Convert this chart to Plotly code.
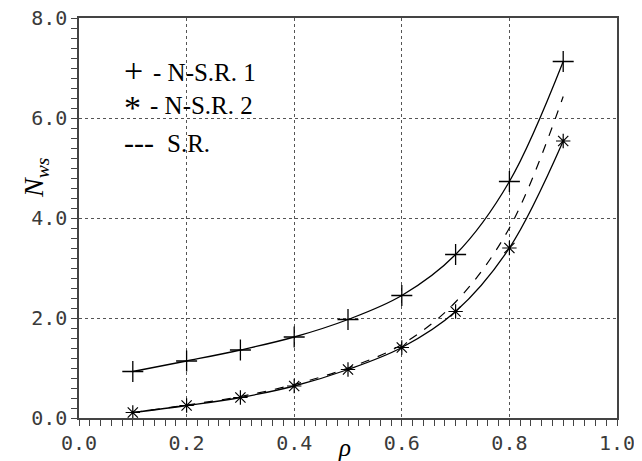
import plotly.graph_objects as go

rho = [0.1, 0.2, 0.3, 0.4, 0.5, 0.6, 0.7, 0.8, 0.9]
nsr1 = [0.93, 1.14, 1.36, 1.62, 1.97, 2.45, 3.27, 4.73, 7.13]
nsr2 = [0.11, 0.25, 0.41, 0.64, 0.97, 1.41, 2.13, 3.40, 5.54]
sr = [0.11, 0.26, 0.43, 0.67, 1.00, 1.47, 2.32, 3.80, 6.43]

x_ticks = [0.0, 0.2, 0.4, 0.6, 0.8, 1.0]
x_labels = ["0.0", "0.2", "0.4", "0.6", "0.8", "1.0"]
y_ticks = [0.0, 2.0, 4.0, 6.0, 8.0]
y_labels = ["0.0", "2.0", "4.0", "6.0", "8.0"]

legend_symbols = ["+", "*", "---"]
legend_texts = ["- N-S.R. 1", "- N-S.R. 2", "S.R."]

# page body has an 8px margin: figure origin sits at (8, 8) in the window
OFF = 8
W, H = 642 - OFF, 461 - OFF
L, R, T, B = 79, 617, 18, 418  # plot area in window pixels


def px(xw):
    return (xw - L) / (R - L)


def py(yw):
    return 1 - (yw - T) / (B - T)


fig = go.Figure()
fig.add_trace(go.Scatter(
    x=rho, y=nsr1, mode="lines+markers", line=dict(color="black", width=1.3, shape="spline"),
    marker=dict(symbol="cross-thin-open", size=15, line=dict(color="black", width=1.3)),
    showlegend=False))
fig.add_trace(go.Scatter(
    x=rho, y=nsr2, mode="lines+markers", line=dict(color="black", width=1.3, shape="spline"),
    marker=dict(symbol="asterisk-open", size=12, line=dict(color="black", width=1.2)),
    showlegend=False))
fig.add_trace(go.Scatter(
    x=rho, y=sr, mode="lines", line=dict(color="black", width=1.2, shape="spline", dash="dash"),
    showlegend=False))

tickfont = dict(family="DejaVu Sans Mono", size=20, color="#3a3a3a")
axis_common = dict(
    tickfont=tickfont, automargin=False, ticklabeloverflow="allow",
    showline=True, linecolor="#444", linewidth=1.5, mirror=True,
    ticks="outside", ticklen=6, tickcolor="#444",
    showgrid=True, gridcolor="#555", griddash="dot", gridwidth=1, zeroline=False,
)
fig.update_xaxes(range=[0, 1], tickvals=x_ticks, ticktext=x_labels,
                 minor=dict(dtick=0.02, ticks="outside", ticklen=6, tickcolor="#444", showgrid=False),
                 **axis_common)
fig.update_yaxes(range=[0, 8], tickvals=y_ticks, ticktext=y_labels,
                 minor=dict(dtick=0.2, ticks="outside", ticklen=6, tickcolor="#444", showgrid=False),
                 **axis_common)

# axis titles
fig.add_annotation(xref="paper", yref="paper", x=px(344), y=py(447), text="<i>ρ</i>",
                   showarrow=False, xanchor="center", yanchor="middle",
                   font=dict(family="Liberation Serif", size=25, color="black"))
fig.add_annotation(xref="paper", yref="paper", x=px(35), y=py(178), text="<i>N<sub>ws</sub></i>",
                   showarrow=False, xanchor="center", yanchor="middle", textangle=-90,
                   font=dict(family="Liberation Serif", size=28, color="black"))

# legend
rows_y = [72, 106, 143]
sym_sizes = [34, 34, 30]
sym_y = [70, 108, 142]
text_x = [151, 148, 165]
for sym, txt, ypx, ss, sy, tx in zip(legend_symbols, legend_texts, rows_y, sym_sizes, sym_y, text_x):
    fig.add_annotation(xref="paper", yref="paper", x=px(122), y=py(sy),
                       text=sym, showarrow=False, xanchor="left", yanchor="middle",
                       font=dict(family="Liberation Serif", size=ss, color="black"))
    fig.add_annotation(xref="paper", yref="paper", x=px(tx), y=py(ypx),
                       text=txt, showarrow=False, xanchor="left", yanchor="middle",
                       font=dict(family="Liberation Serif", size=25, color="black"))

fig.update_layout(
    width=W, height=H,
    margin=dict(l=L - OFF, r=W - (R - OFF), t=T - OFF, b=H - (B - OFF)),
    paper_bgcolor="white", plot_bgcolor="white",
)
fig.write_html("out.html")
